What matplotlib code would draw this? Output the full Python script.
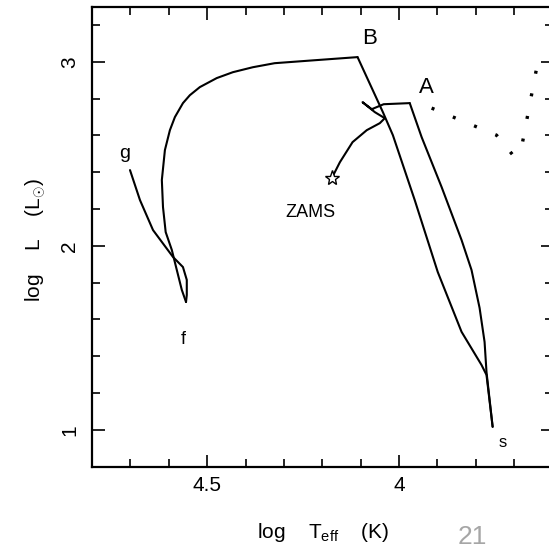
import matplotlib
matplotlib.use("Agg")
import matplotlib.pyplot as plt
from matplotlib.ticker import MultipleLocator

plt.rcParams['font.family'] = ['Liberation Sans', 'DejaVu Sans']
plt.rcParams['mathtext.fontset'] = 'custom'
plt.rcParams['mathtext.rm'] = 'Liberation Sans'
plt.rcParams['mathtext.it'] = 'Liberation Sans'
plt.rcParams['mathtext.bf'] = 'Liberation Sans:bold'

# ---- data (log Teff, log L) ----
# main sequence from ZAMS with hook, then across to A
ms_logT = [4.175, 4.154, 4.121, 4.084, 4.050, 4.037, 4.063, 4.095, 4.071, 4.040, 3.972]
ms_logL = [2.369, 2.455, 2.564, 2.629, 2.667, 2.694, 2.727, 2.781, 2.743, 2.770, 2.776]

# from A down to s
as_logT = [3.972, 3.941, 3.889, 3.837, 3.811, 3.790, 3.777, 3.772, 3.756]
as_logL = [2.776, 2.591, 2.320, 2.032, 1.869, 1.663, 1.478, 1.315, 1.017]

# from s up to B
sb_logT = [3.756, 3.772, 3.785, 3.837, 3.899, 3.959, 4.016, 4.042, 4.108]
sb_logL = [1.017, 1.299, 1.353, 1.533, 1.858, 2.249, 2.602, 2.727, 3.026]

# from B across to the blue loop, down to f
bf_logT = [4.108, 4.220, 4.324, 4.381, 4.433, 4.475, 4.519, 4.545, 4.563, 4.584,
           4.597, 4.610, 4.618, 4.615, 4.608, 4.592, 4.579, 4.566, 4.555]
bf_logL = [3.026, 3.009, 2.993, 2.971, 2.944, 2.912, 2.863, 2.819, 2.776, 2.700,
           2.629, 2.521, 2.358, 2.211, 2.075, 1.978, 1.869, 1.761, 1.695]

# from f up to g
fg_logT = [4.555, 4.553, 4.553, 4.563, 4.589, 4.641, 4.675, 4.701]
fg_logL = [1.695, 1.733, 1.815, 1.885, 1.940, 2.086, 2.249, 2.412]

# dotted track to the right of A
dot_logT = [3.915, 3.746, 3.701, 3.680, 3.634]
dot_logL = [2.749, 2.602, 2.488, 2.542, 3.047]

zams_logT = [4.175]
zams_logL = [2.369]

xticks = [4.5, 4.0]
xticklabels = ['4.5', '4']
yticks = [1, 2, 3]
yticklabels = ['1', '2', '3']

# ---- figure ----
W = H = 549
fig = plt.figure(figsize=(5.49, 5.49), dpi=100)
ax = fig.add_axes([92 / W, 1 - 466.7 / H, (552.5 - 92) / W, (466.7 - 6.7) / H])

lw = 1.5
for xs, ys in [(ms_logT, ms_logL), (as_logT, as_logL), (sb_logT, sb_logL),
               (bf_logT, bf_logL), (fg_logT, fg_logL)]:
    ax.plot(xs, ys, color='black', lw=lw, solid_joinstyle='round', solid_capstyle='round')

ax.plot(dot_logT, dot_logL, color='black', lw=2.4, linestyle=(0, (0.9, 6.0)),
        dash_capstyle='butt')

ax.plot(zams_logT, zams_logL, marker='*', ms=11, mfc='white', mec='black', mew=1.0,
        linestyle='none')

ax.set_xlim(4.8, 3.6)
ax.set_ylim(0.8, 3.3)

ax.set_xticks(xticks)
ax.set_xticklabels(xticklabels)
ax.set_yticks(yticks)
ax.set_yticklabels(yticklabels)
ax.xaxis.set_minor_locator(MultipleLocator(0.1))
ax.yaxis.set_minor_locator(MultipleLocator(0.2))

ax.tick_params(which='both', direction='in', top=True, right=True, width=1.2, colors='black')
ax.tick_params(which='major', length=9)
ax.tick_params(which='minor', length=5.5)
ax.tick_params(axis='x', which='major', labelsize=15, pad=7)
ax.tick_params(axis='y', which='major', labelsize=15, pad=9, labelrotation=90)
for lab in ax.get_yticklabels():
    lab.set_va('center')

for sp in ax.spines.values():
    sp.set_linewidth(1.6)

# labels
txt = dict(color='black', ha='center', va='center')
ax.text(4.076, 3.129, 'B', fontsize=16, **txt)
ax.text(3.928, 2.863, 'A', fontsize=16, **txt)
ax.text(4.714, 2.504, 'g', fontsize=14, **txt)
ax.text(4.230, 2.179, 'ZAMS', fontsize=13, **txt)
ax.text(4.563, 1.489, 'f', fontsize=13, **txt)
ax.text(3.730, 0.930, 's', fontsize=12, **txt)

fig.text(323 / W, 1 - 533 / H, r'log    T$_{\mathregular{eff}}$    (K)', fontsize=15,
         ha='center', va='center')
fig.text(36 / W, 1 - 240 / H, r'log    L    (L$_{\odot}$)', fontsize=15,
         ha='center', va='center', rotation=90)

fig.text(458 / W, 0.01, '21', fontsize=19, color='#a6a6a6', ha='left', va='baseline')

fig.savefig('out.png', dpi=100)
